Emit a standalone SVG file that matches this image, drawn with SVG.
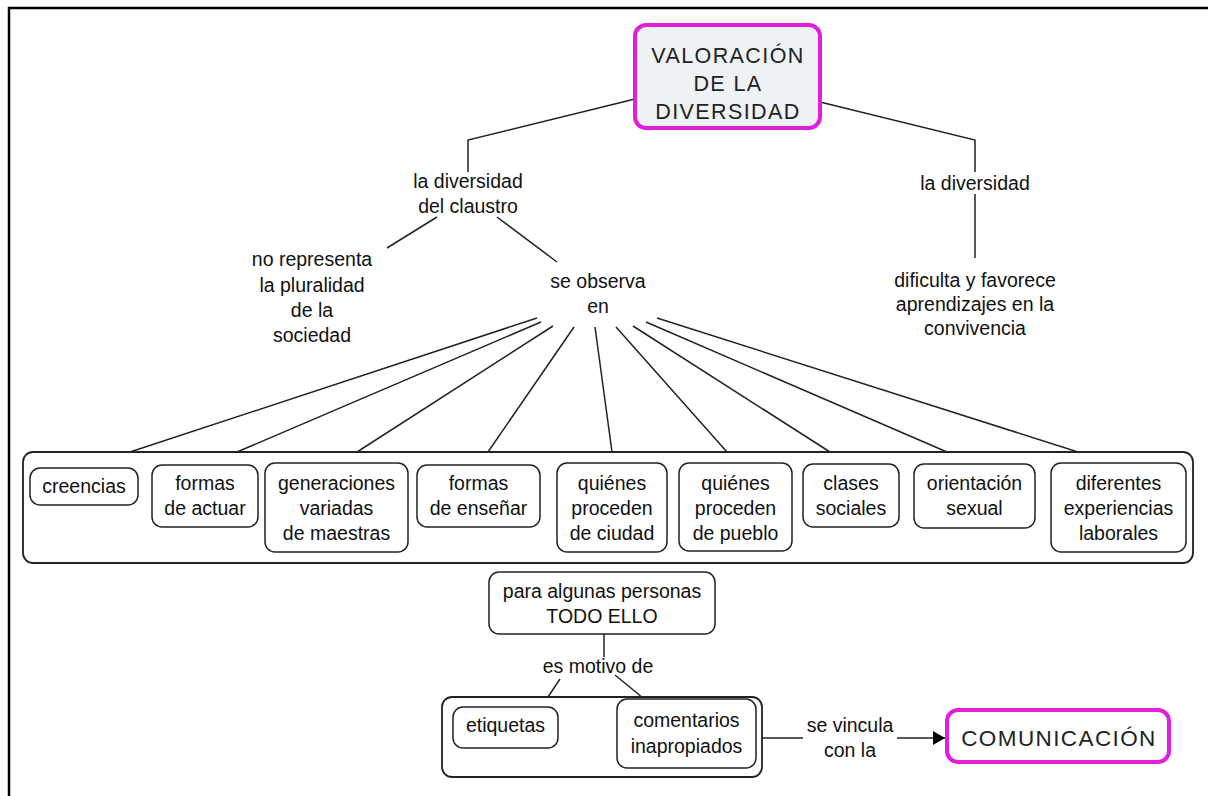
<svg xmlns="http://www.w3.org/2000/svg" width="1208" height="796" viewBox="0 0 1208 796">
  <defs>
    <marker id="arrow" viewBox="0 0 12 14" refX="12" refY="7" markerWidth="12" markerHeight="14" markerUnits="userSpaceOnUse" orient="auto">
      <path d="M0,0 L12,7 L0,14 Z" fill="#000"/>
    </marker>
  </defs>
  <style>
    .t { font-family: "Liberation Sans", Arial, sans-serif; font-size: 19.5px; fill: #111; text-anchor: middle; }
    .title { font-family: "Liberation Sans", Arial, sans-serif; font-size: 21.5px; fill: #222; text-anchor: middle; letter-spacing: 1.4px; }
    .box { fill: #fff; stroke: #222; stroke-width: 1.5; }
    .group { fill: #fff; stroke: #222; stroke-width: 1.8; }
    .main { stroke: #e020d8; stroke-width: 4; }
    .link { fill: none; stroke: #222; stroke-width: 1.5; }
  </style>

  <rect width="1208" height="796" fill="#fff"/>
  <!-- page frame -->
  <path d="M9,796 V8 H1208" fill="none" stroke="#000" stroke-width="2.5"/>

  <!-- connectors -->
  <g id="connectors" class="link">
    <polyline points="635,99 468,140 468,172"/>
    <polyline points="820,102 975,140 975,172"/>
    <line x1="975" y1="194" x2="975" y2="258"/>
    <line x1="437" y1="217" x2="387" y2="248"/>
    <line x1="497" y1="217" x2="557" y2="262"/>
    <line x1="537" y1="318" x2="130" y2="452"/>
    <line x1="541" y1="322" x2="237" y2="452"/>
    <line x1="553" y1="326" x2="357" y2="452"/>
    <line x1="574" y1="327" x2="488" y2="452"/>
    <line x1="595" y1="327" x2="612" y2="452"/>
    <line x1="616" y1="327" x2="727" y2="452"/>
    <line x1="633" y1="326" x2="830" y2="452"/>
    <line x1="646" y1="322" x2="947" y2="452"/>
    <line x1="657" y1="318" x2="1078" y2="452"/>
    <line x1="604" y1="634" x2="604" y2="657"/>
    <line x1="560" y1="679" x2="542" y2="706"/>
    <line x1="615" y1="675" x2="643" y2="698"/>
    <line x1="762" y1="738" x2="803" y2="738"/>
    <line x1="897" y1="738" x2="945" y2="738" marker-end="url(#arrow)"/>
  </g>

  <!-- root concept -->
  <g id="valoracion">
    <rect x="635" y="25" width="185" height="103" rx="11" fill="#eef2f4" class="main"/>
    <text class="title" x="728" y="63">VALORACIÓN</text>
    <text class="title" x="728" y="91">DE LA</text>
    <text class="title" x="728" y="119">DIVERSIDAD</text>
  </g>

  <!-- linking phrases -->
  <g id="lbl-claustro">
    <text class="t" x="468" y="188">la diversidad</text>
    <text class="t" x="468" y="213">del claustro</text>
  </g>
  <g id="lbl-diversidad">
    <text class="t" x="975" y="190">la diversidad</text>
  </g>
  <g id="no-representa">
    <text class="t" x="312" y="266">no representa</text>
    <text class="t" x="312" y="292">la pluralidad</text>
    <text class="t" x="312" y="317">de la</text>
    <text class="t" x="312" y="342">sociedad</text>
  </g>
  <g id="lbl-observa">
    <text class="t" x="598" y="288">se observa</text>
    <text class="t" x="598" y="313">en</text>
  </g>
  <g id="dificulta">
    <text class="t" x="975" y="287">dificulta y favorece</text>
    <text class="t" x="975" y="311">aprendizajes en la</text>
    <text class="t" x="975" y="335">convivencia</text>
  </g>

  <!-- container of aspects -->
  <g id="aspectos">
    <rect class="group" x="23" y="452" width="1170" height="111" rx="10"/>
  </g>
  <g id="creencias">
    <rect class="box" x="30" y="468" width="108" height="37" rx="10"/>
    <text class="t" x="84" y="493">creencias</text>
  </g>
  <g id="formas-actuar">
    <rect class="box" x="152" y="465" width="106" height="62" rx="10"/>
    <text class="t" x="205" y="490">formas</text>
    <text class="t" x="205" y="515">de actuar</text>
  </g>
  <g id="generaciones">
    <rect class="box" x="265" y="463" width="143" height="89" rx="10"/>
    <text class="t" x="336.5" y="490">generaciones</text>
    <text class="t" x="336.5" y="515">variadas</text>
    <text class="t" x="336.5" y="540">de maestras</text>
  </g>
  <g id="formas-ensenar">
    <rect class="box" x="417" y="465" width="123" height="62" rx="10"/>
    <text class="t" x="478.5" y="490">formas</text>
    <text class="t" x="478.5" y="515">de enseñar</text>
  </g>
  <g id="ciudad">
    <rect class="box" x="557" y="463" width="110" height="89" rx="10"/>
    <text class="t" x="612" y="490">quiénes</text>
    <text class="t" x="612" y="515">proceden</text>
    <text class="t" x="612" y="540">de ciudad</text>
  </g>
  <g id="pueblo">
    <rect class="box" x="679" y="463" width="113" height="88" rx="10"/>
    <text class="t" x="735.5" y="490">quiénes</text>
    <text class="t" x="735.5" y="515">proceden</text>
    <text class="t" x="735.5" y="540">de pueblo</text>
  </g>
  <g id="clases">
    <rect class="box" x="803" y="464" width="96" height="63" rx="10"/>
    <text class="t" x="851" y="490">clases</text>
    <text class="t" x="851" y="515">sociales</text>
  </g>
  <g id="orientacion">
    <rect class="box" x="914" y="464" width="121" height="64" rx="10"/>
    <text class="t" x="974.5" y="490">orientación</text>
    <text class="t" x="974.5" y="515">sexual</text>
  </g>
  <g id="experiencias">
    <rect class="box" x="1051" y="463" width="135" height="89" rx="10"/>
    <text class="t" x="1118.5" y="490">diferentes</text>
    <text class="t" x="1118.5" y="515">experiencias</text>
    <text class="t" x="1118.5" y="540">laborales</text>
  </g>

  <!-- consequence -->
  <g id="todo-ello">
    <rect class="box" x="489" y="572" width="226" height="62" rx="10"/>
    <text class="t" x="602" y="598">para algunas personas</text>
    <text class="t" x="602" y="623">TODO ELLO</text>
  </g>
  <g id="lbl-motivo">
    <text class="t" x="598" y="673">es motivo de</text>
  </g>
  <g id="efectos">
    <rect class="group" x="442" y="697" width="320" height="80" rx="10"/>
  </g>
  <g id="etiquetas">
    <rect class="box" x="453" y="707" width="105" height="41" rx="10"/>
    <text class="t" x="505.5" y="732">etiquetas</text>
  </g>
  <g id="comentarios">
    <rect class="box" x="617" y="699" width="139" height="69" rx="10"/>
    <text class="t" x="686.5" y="727">comentarios</text>
    <text class="t" x="686.5" y="753">inapropiados</text>
  </g>
  <g id="lbl-vincula">
    <text class="t" x="850" y="732">se vincula</text>
    <text class="t" x="850" y="757">con la</text>
  </g>
  <g id="comunicacion">
    <rect x="947" y="710" width="222" height="52" rx="11" fill="#fff" class="main"/>
    <text class="title" x="1059" y="746" style="font-size:22.5px">COMUNICACIÓN</text>
  </g>
</svg>
